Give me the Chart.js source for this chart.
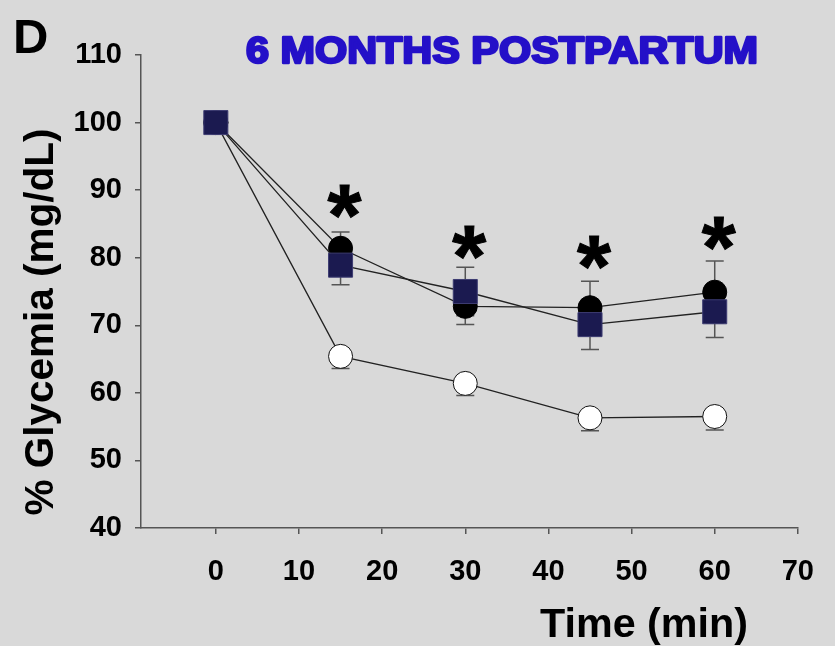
<!DOCTYPE html>
<html lang="en">
<head>
    <meta charset="UTF-8">
    <title>6 months postpartum - % glycemia</title>
    <style>
        body {
            margin: 0;
            background: #d9d9d9;
        }

        #chartContainer {
            width: 835px;
            height: 646px;
        }
    </style>
    <script src="https://cdn.jsdelivr.net/npm/chart.js"></script>
</head>

<body>
    <div id="chartContainer"><canvas id="chart1"></canvas></div>
    <script>
        // Time points (min) and axis ticks
        const timePoints = [0, 15, 30, 45, 60];
        const xTicks = [0, 10, 20, 30, 40, 50, 60, 70];
        const yTicks = [40, 50, 60, 70, 80, 90, 100, 110];

        // % glycemia, mean values
        const filledSquare = [100, 78.9, 75.0, 70.1, 72.0];
        const filledCircle = [100, 81.4, 72.8, 72.6, 74.9];
        const openCircle = [100, 65.4, 61.4, 56.3, 56.5];

        // error bars (+/-)
        const filledSquareErr = [0, 2.9, 3.6, 3.7, 3.8];
        const filledCircleErr = [0, 2.4, 2.7, 3.9, 4.6];
        const openCircleErr = [0, 1.8, 1.8, 1.9, 2.0];

        // significance asterisks
        const starTimes = [15, 30, 45, 60];
        const starLevels = [88.3, 82.2, 80.7, 83.6];

        const FONT = "'Liberation Sans', Arial, Helvetica, sans-serif";

        function toXY(values) {
            return timePoints.map((t, i) => ({ x: t, y: values[i] }));
        }

        // draw text squeezed/stretched to a given width
        function fitText(ctx, text, x, y, font, width, color, rotate, stroke) {
            ctx.save();
            ctx.font = font;
            const w = ctx.measureText(text).width;
            ctx.translate(x, y);
            if (rotate) ctx.rotate(-Math.PI / 2);
            ctx.scale(width / w, 1);
            ctx.fillStyle = color;
            ctx.textAlign = 'center';
            ctx.textBaseline = 'alphabetic';
            ctx.fillText(text, 0, 0);
            if (stroke) {
                ctx.strokeStyle = color;
                ctx.lineWidth = stroke;
                ctx.lineJoin = 'round';
                ctx.strokeText(text, 0, 0);
            }
            ctx.restore();
        }

        const background = {
            id: 'background',
            beforeDraw(chart) {
                const ctx = chart.ctx;
                ctx.save();
                ctx.fillStyle = '#d9d9d9';
                ctx.fillRect(0, 0, chart.width, chart.height);
                ctx.restore();
            }
        };

        // error bars are drawn under the markers
        const errorBars = {
            id: 'errorBars',
            beforeDatasetsDraw(chart) {
                const ctx = chart.ctx;
                const yScale = chart.scales.y;
                ctx.save();
                ctx.strokeStyle = '#555';
                ctx.lineWidth = 1.5;
                chart.data.datasets.forEach((ds, di) => {
                    const meta = chart.getDatasetMeta(di);
                    meta.data.forEach((pt, i) => {
                        const e = ds.errors[i];
                        if (!e) return;
                        const v = ds.data[i].y;
                        const yTop = yScale.getPixelForValue(ds.errorDir === 'down' ? v : v + e);
                        const yBot = yScale.getPixelForValue(v - e);
                        ctx.beginPath();
                        ctx.moveTo(pt.x, yTop);
                        ctx.lineTo(pt.x, yBot);
                        if (ds.errorDir !== 'down') {
                            ctx.moveTo(pt.x - 9, yTop);
                            ctx.lineTo(pt.x + 9, yTop);
                        }
                        ctx.moveTo(pt.x - 9, yBot);
                        ctx.lineTo(pt.x + 9, yBot);
                        ctx.stroke();
                    });
                });
                ctx.restore();
            }
        };

        const annotations = {
            id: 'annotations',
            afterDraw(chart) {
                const ctx = chart.ctx;
                const xScale = chart.scales.x;
                const yScale = chart.scales.y;

                // asterisks
                ctx.save();
                ctx.font = 'bold 100px ' + FONT;
                let m = ctx.measureText('*');
                const size = 100 * 34 / (m.actualBoundingBoxLeft + m.actualBoundingBoxRight);
                ctx.font = 'bold ' + size + 'px ' + FONT;
                m = ctx.measureText('*');
                ctx.fillStyle = '#000';
                ctx.strokeStyle = '#000';
                ctx.lineWidth = 1;
                ctx.textAlign = 'center';
                ctx.textBaseline = 'alphabetic';
                starTimes.forEach((t, i) => {
                    const x = xScale.getPixelForValue(t) + 4;
                    const y = yScale.getPixelForValue(starLevels[i]);
                    const off = (m.actualBoundingBoxAscent - m.actualBoundingBoxDescent) / 2;
                    ctx.fillText('*', x, y + off);
                    ctx.strokeText('*', x, y + off);
                });
                ctx.restore();

                // panel letter
                ctx.save();
                ctx.font = 'bold 49px ' + FONT;
                ctx.fillStyle = '#000';
                ctx.textBaseline = 'alphabetic';
                ctx.fillText('D', 13, 53);
                ctx.restore();

                // title
                fitText(ctx, '6 MONTHS POSTPARTUM', 502, 63, 'bold 36px ' + FONT, 512, '#2410c8', false, 2.4);

                // axis titles
                fitText(ctx, '% Glycemia (mg/dL)', 53, 322, 'bold 40px ' + FONT, 387, '#000', true, 0);
                fitText(ctx, 'Time (min)', 644, 637, 'bold 40px ' + FONT, 208, '#000', false, 0);
            }
        };

        const ctx = document.getElementById('chart1').getContext('2d');
        new Chart(ctx, {
            type: 'line',
            data: {
                datasets: [{
                    label: 'Square',
                    data: toXY(filledSquare),
                    errors: filledSquareErr,
                    errorDir: 'both',
                    borderColor: '#222',
                    borderWidth: 1.3,
                    pointStyle: 'rect',
                    pointRadius: 17,
                    pointBackgroundColor: '#1b1a50',
                    pointBorderColor: '#3d3c72',
                    pointBorderWidth: 1,
                    tension: 0,
                    fill: false
                }, {
                    label: 'Filled circle',
                    data: toXY(filledCircle),
                    errors: filledCircleErr,
                    errorDir: 'both',
                    borderColor: '#222',
                    borderWidth: 1.3,
                    pointStyle: 'circle',
                    pointRadius: 12,
                    pointBackgroundColor: '#000',
                    pointBorderColor: '#000',
                    pointBorderWidth: 1,
                    tension: 0,
                    fill: false
                }, {
                    label: 'Open circle',
                    data: toXY(openCircle),
                    errors: openCircleErr,
                    errorDir: 'down',
                    borderColor: '#222',
                    borderWidth: 1.3,
                    pointStyle: 'circle',
                    pointRadius: 12,
                    pointBackgroundColor: '#fff',
                    pointBorderColor: '#111',
                    pointBorderWidth: 1,
                    tension: 0,
                    fill: false
                }]
            },
            options: {
                responsive: true,
                maintainAspectRatio: false,
                animation: false,
                layout: {
                    padding: { left: 0, top: 55, right: 35, bottom: 0 }
                },
                plugins: {
                    legend: { display: false },
                    tooltip: { enabled: false },
                    title: { display: false }
                },
                scales: {
                    x: {
                        type: 'linear',
                        min: -9,
                        max: 70,
                        afterBuildTicks: s => { s.ticks = xTicks.map(v => ({ value: v })); },
                        afterFit: s => { s.height = 118; },
                        border: { display: true, color: '#555', width: 1.5 },
                        grid: {
                            display: true,
                            drawOnChartArea: false,
                            drawTicks: true,
                            tickLength: 6,
                            color: '#555',
                            lineWidth: 1.5
                        },
                        ticks: {
                            color: '#000',
                            padding: 21,
                            maxRotation: 0,
                            font: { family: FONT, size: 29, weight: 'bold' }
                        }
                    },
                    y: {
                        type: 'linear',
                        min: 40,
                        max: 110,
                        afterBuildTicks: s => { s.ticks = yTicks.map(v => ({ value: v })); },
                        afterFit: s => { s.width = 141; },
                        border: { display: true, color: '#555', width: 1.5 },
                        grid: {
                            display: true,
                            drawOnChartArea: false,
                            drawTicks: true,
                            tickLength: 6,
                            color: '#555',
                            lineWidth: 1.5
                        },
                        ticks: {
                            color: '#000',
                            padding: 13,
                            font: { family: FONT, size: 29, weight: 'bold' }
                        }
                    }
                }
            },
            plugins: [background, errorBars, annotations]
        });
    </script>
</body>

</html>
